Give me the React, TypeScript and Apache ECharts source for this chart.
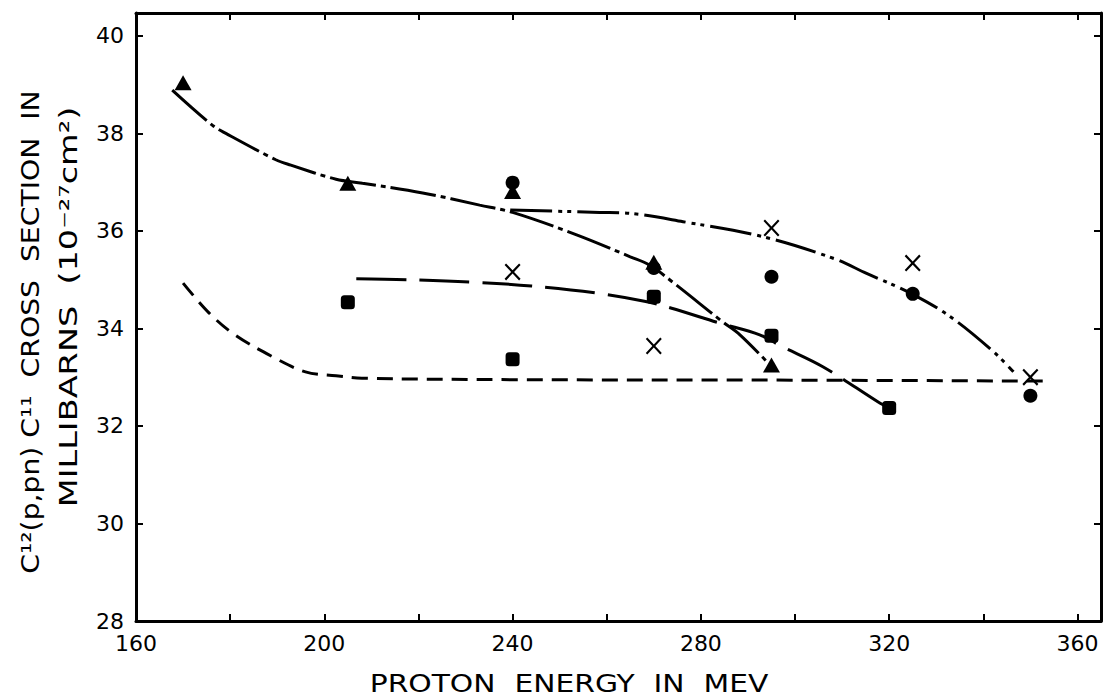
import React, { useEffect, useRef } from "react";
import * as echarts from "echarts";

// Tick labels
const X_TICK_LABELS = [160, 200, 240, 280, 320, 360];
const Y_TICK_LABELS = [28, 30, 32, 34, 36, 38, 40];

// Measured points (proton energy MeV, cross section mb)
const triangles = [[170, 39.04], [205, 36.98], [240, 36.81], [270, 35.36], [295, 33.25]];
const circles = [[240, 36.99], [270, 35.24], [295, 35.06], [325, 34.71], [350, 32.62]];
const squares = [[205, 34.54], [240, 33.37], [270, 34.65], [295, 33.85], [320, 32.37]];
const crosses = [[240, 35.16], [270, 33.64], [295, 36.06], [325, 35.34], [350, 33.0]];

// Hand-drawn curves
const curveDashed = [
  [170, 34.93], [175.5, 34.32], [181, 33.87], [189, 33.42], [196, 33.11],
  [202.5, 33.03], [208, 32.98], [240, 32.95], [300, 32.94], [353, 32.92],
];
const curveLongDash = [
  [206.8, 35.02], [218, 35.0], [231.5, 34.95], [244, 34.87], [257.5, 34.73],
  [268, 34.56], [273.6, 34.42], [284, 34.11], [292.5, 33.87], [297, 33.64],
  [306, 33.21], [318, 32.47], [320, 32.37],
];
const curveDashDot = [
  [167.7, 38.89], [176.2, 38.17], [179.1, 38.0], [189.7, 37.46], [192.9, 37.35],
  [202.5, 37.06], [208.1, 36.98], [220.9, 36.78], [233, 36.53], [240, 36.38],
  [253.6, 35.92], [265, 35.47], [269.1, 35.3], [274, 34.95], [284.7, 34.13],
  [288.3, 33.87], [294.5, 33.27],
];
const curveDashDotDot = [
  [239.5, 36.43], [258.5, 36.38], [264.9, 36.36], [276.2, 36.19], [293.3, 35.88],
  [308.1, 35.44], [315.2, 35.13], [324.8, 34.71], [333, 34.24], [342.2, 33.52],
  [346.4, 33.11],
];

const X_MIN = 160;
const X_MAX = 365;
const Y_MIN = 28;
const Y_MAX = 40.47;

const FONT = "DejaVu Sans";
const INK = "#000";

const crossPath =
  "path://M0,1.5L1.5,0L8,6.5L14.5,0L16,1.5L9.5,8L16,14.5L14.5,16L8,9.5L1.5,16L0,14.5L6.5,8Z";

export default function App() {
  const ref = useRef<HTMLDivElement>(null);

  useEffect(() => {
    if (!ref.current) return;
    const chart = echarts.init(ref.current, undefined, { renderer: "svg" });

    const axisLine = { show: true, onZero: false, lineStyle: { color: INK, width: 3 } };
    const axisTick = { show: true, inside: true, length: 7, lineStyle: { color: INK, width: 2 } };

    const lineSeries = (data: number[][], type: number[]) => ({
      type: "line",
      data,
      showSymbol: false,
      smooth: 0.35,
      silent: true,
      z: 2,
      lineStyle: { color: INK, width: 3, type, cap: "butt" },
    });

    const scatter = (data: number[][], symbol: string, size: any) => ({
      type: "scatter",
      data,
      symbol,
      symbolSize: size,
      z: 3,
      itemStyle: { color: INK, opacity: 1 },
    });

    const isTick = (v: number, list: number[]) =>
      Math.abs(v - Math.round(v)) < 1e-6 && list.includes(Math.round(v));

    chart.setOption({
      animation: false,
      backgroundColor: "#fff",
      grid: { left: 136, right: 3, top: 13, bottom: 75, containLabel: false },
      xAxis: [
        {
          type: "value",
          position: "bottom",
          min: X_MIN,
          max: X_MAX,
          interval: 20,
          axisLine,
          axisTick,
          splitLine: { show: false },
          axisLabel: {
            showMaxLabel: false,
            margin: 11,
            color: INK,
            fontFamily: FONT,
            fontSize: 22,
            formatter: (v: number) => (isTick(v, X_TICK_LABELS) ? String(Math.round(v)) : ""),
          },
        },
        {
          type: "value",
          position: "top",
          min: X_MIN,
          max: X_MAX,
          interval: 20,
          axisLine,
          axisTick,
          splitLine: { show: false },
          axisLabel: { show: false },
        },
      ],
      yAxis: [
        {
          type: "value",
          position: "left",
          min: Y_MIN,
          max: Y_MAX,
          interval: 2,
          axisLine,
          axisTick,
          splitLine: { show: false },
          axisLabel: {
            showMaxLabel: false,
            margin: 12,
            color: INK,
            fontFamily: FONT,
            fontSize: 22,
            formatter: (v: number) => (isTick(v, Y_TICK_LABELS) ? String(Math.round(v)) : ""),
          },
        },
        {
          type: "value",
          position: "right",
          min: Y_MIN,
          max: Y_MAX,
          interval: 2,
          axisLine,
          axisTick,
          splitLine: { show: false },
          axisLabel: { show: false },
        },
      ],
      graphic: [
        {
          type: "text",
          x: 30,
          y: 332,
          rotation: Math.PI / 2,
          scaleX: 1.13,
          style: {
            text: "C¹²(p,pn) C¹¹  CROSS  SECTION  IN",
            font: `25px "${FONT}"`,
            fill: INK,
            textAlign: "center",
            textVerticalAlign: "middle",
          },
        },
        {
          type: "text",
          x: 69,
          y: 307,
          rotation: Math.PI / 2,
          scaleX: 1.34,
          style: {
            text: "MILLIBARNS  (10⁻²⁷cm²)",
            font: `25px "${FONT}"`,
            fill: INK,
            textAlign: "center",
            textVerticalAlign: "middle",
          },
        },
        {
          type: "text",
          x: 569,
          y: 683,
          scaleX: 1.19,
          style: {
            text: "PROTON  ENERGY  IN  MEV",
            font: `25px "${FONT}"`,
            fill: INK,
            textAlign: "center",
            textVerticalAlign: "middle",
          },
        },
      ],
      series: [
        lineSeries(curveDashed, [16, 9]),
        lineSeries(curveLongDash, [50, 13]),
        lineSeries(curveDashDot, [46, 5, 5, 5]),
        lineSeries(curveDashDotDot, [42, 6, 4, 5, 4, 6]),
        scatter(triangles, "triangle", [17, 15]),
        scatter(circles, "circle", 14),
        scatter(squares, "roundRect", 14),
        scatter(crosses, crossPath, [16, 17]),
      ],
    });

    return () => chart.dispose();
  }, []);

  return (
    <div
      ref={ref}
      style={{ position: "fixed", left: 0, top: 0, width: 1104, height: 696, background: "#fff" }}
    />
  );
}
